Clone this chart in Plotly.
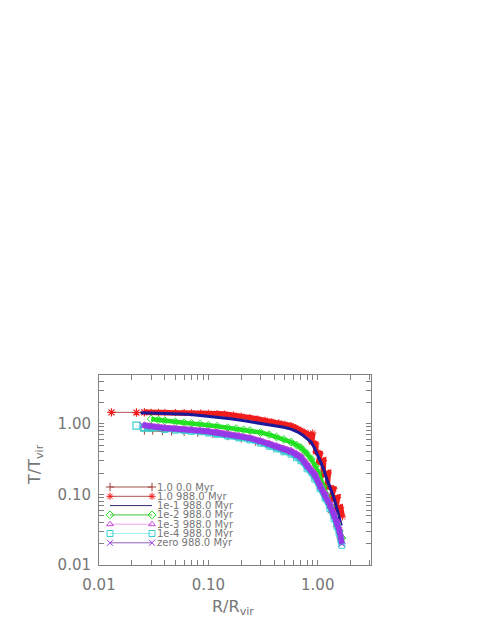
"""Temperature profiles T/Tvir vs R/Rvir, IDL-style log-log plot rebuilt in Plotly."""
import plotly.graph_objects as go

# ---- data ------------------------------------------------------------------
LABELS = ["1.0 0.0 Myr", "1.0 988.0 Myr", "1e-1 988.0 Myr", "1e-2 988.0 Myr",
          "1e-3 988.0 Myr", "1e-4 988.0 Myr", "zero 988.0 Myr"]

R_IC = [0.026, 0.031, 0.038, 0.046, 0.06, 0.08, 0.11, 0.15, 0.2, 0.27,
        0.36, 0.48, 0.6, 0.75, 0.9, 1.05, 1.2, 1.35, 1.5, 1.62]
T_IC = [0.80, 0.80, 0.79, 0.78, 0.77, 0.75, 0.72, 0.67, 0.62, 0.56,
        0.5, 0.42, 0.36, 0.27, 0.19, 0.13, 0.085, 0.055, 0.035, 0.024]

# outer run: two isolated inner points, flat part, then the wide scatter of the fall-off
R_F1 = [0.013, 0.022, 0.026, 0.03, 0.035, 0.04, 0.05, 0.06, 0.07, 0.085,
        0.10, 0.12, 0.14, 0.17, 0.20, 0.24, 0.28, 0.33, 0.38, 0.44,
        0.50, 0.57, 0.63, 0.70, 0.76, 0.82, 0.86, 0.90, 0.88, 0.96,
        0.96, 1.05, 1.02, 1.13, 1.12, 1.25, 1.22, 1.40, 1.32, 1.52,
        1.45, 1.62, 1.68]
T_F1 = [1.45, 1.44, 1.45, 1.45, 1.45, 1.45, 1.44, 1.44, 1.43, 1.42,
        1.41, 1.39, 1.37, 1.33, 1.28, 1.22, 1.17, 1.12, 1.07, 1.03,
        0.98, 0.94, 0.88, 0.81, 0.76, 0.72, 0.68, 0.74, 0.55, 0.52,
        0.40, 0.38, 0.28, 0.30, 0.19, 0.20, 0.13, 0.12, 0.085, 0.09,
        0.06, 0.065, 0.048]

R_E1 = [0.024, 0.03, 0.04, 0.05, 0.065, 0.084, 0.10, 0.13, 0.16, 0.20,
        0.24, 0.30, 0.36, 0.42, 0.49, 0.57, 0.65, 0.72, 0.80, 0.87,
        0.95, 1.00, 1.07, 1.13, 1.20, 1.30, 1.41, 1.50, 1.58, 1.64]
T_E1 = [1.43, 1.42, 1.41, 1.39, 1.36, 1.31, 1.28, 1.23, 1.18, 1.12,
        1.07, 1.01, 0.96, 0.93, 0.89, 0.84, 0.77, 0.70, 0.62, 0.55,
        0.43, 0.36, 0.28, 0.23, 0.17, 0.12, 0.088, 0.062, 0.045, 0.036]

R_E2 = [0.030, 0.035, 0.04, 0.05, 0.06, 0.07, 0.084, 0.10, 0.12, 0.15,
        0.18, 0.21, 0.24, 0.30, 0.36, 0.42, 0.49, 0.57, 0.64, 0.70,
        0.78, 0.87, 0.95, 1.02, 1.13, 1.22, 1.32, 1.41, 1.50, 1.58, 1.67]
T_E2 = [1.17, 1.13, 1.10, 1.06, 1.03, 1.01, 0.99, 0.95, 0.92, 0.88,
        0.85, 0.82, 0.80, 0.75, 0.70, 0.65, 0.60, 0.55, 0.50, 0.46,
        0.39, 0.32, 0.25, 0.20, 0.13, 0.095, 0.068, 0.05, 0.038, 0.03, 0.024]

R_E3 = [0.026, 0.03, 0.04, 0.05, 0.06, 0.07, 0.084, 0.10, 0.12, 0.15,
        0.19, 0.24, 0.30, 0.36, 0.42, 0.49, 0.57, 0.64, 0.70, 0.80,
        0.94, 1.05, 1.17, 1.29, 1.41, 1.50, 1.57, 1.62, 1.66]
T_E3 = [0.97, 0.93, 0.89, 0.87, 0.85, 0.84, 0.82, 0.80, 0.77, 0.73,
        0.69, 0.64, 0.58, 0.53, 0.49, 0.45, 0.42, 0.38, 0.35, 0.27,
        0.20, 0.14, 0.105, 0.075, 0.053, 0.042, 0.033, 0.026, 0.021]

R_E4 = [0.022, 0.026, 0.03, 0.04, 0.05, 0.06, 0.07, 0.084, 0.10, 0.12,
        0.15, 0.19, 0.24, 0.30, 0.36, 0.42, 0.49, 0.57, 0.64, 0.70,
        0.80, 0.94, 1.05, 1.17, 1.29, 1.41, 1.50, 1.57, 1.62, 1.66]
T_E4 = [0.94, 0.88, 0.86, 0.83, 0.81, 0.80, 0.78, 0.77, 0.74, 0.71,
        0.67, 0.63, 0.59, 0.53, 0.48, 0.44, 0.40, 0.37, 0.33, 0.30,
        0.23, 0.165, 0.12, 0.088, 0.063, 0.045, 0.035, 0.028, 0.023, 0.019]

R_Z = [0.025, 0.03, 0.04, 0.05, 0.06, 0.07, 0.084, 0.094, 0.12, 0.15,
       0.19, 0.24, 0.30, 0.36, 0.42, 0.49, 0.57, 0.64, 0.70, 0.80,
       0.94, 1.05, 1.17, 1.29, 1.41, 1.50, 1.57, 1.62, 1.66]
T_Z = [0.95, 0.90, 0.86, 0.84, 0.83, 0.81, 0.80, 0.78, 0.74, 0.70,
       0.66, 0.62, 0.56, 0.51, 0.47, 0.43, 0.40, 0.36, 0.33, 0.25,
       0.185, 0.13, 0.097, 0.07, 0.05, 0.04, 0.031, 0.025, 0.020]

MAJOR = [0.01, 0.1, 1.0]
MAJOR_TEXT = ["0.01", "0.10", "1.00"]

# ---- style ------------------------------------------------------------------
PAGE_PAD = 8                      # default <body> margin of the html page
W, H = 485 - PAGE_PAD, 629 - PAGE_PAD
L, R, T, B = 99 - PAGE_PAD, 114, 375 - PAGE_PAD, 64
PW, PH = W - L - R, H - T - B
AXIS = "#808080"
TXT = "#767676"
FONT = "DejaVu Sans"


def px_x(page_x):
    return (page_x - PAGE_PAD - L) / PW


def px_y(page_y):
    return (H - B - (page_y - PAGE_PAD)) / PH


# (name, x, y, marker colour, legend line colour, symbol, line width, first point of dense band)
SERIES = [
    (LABELS[0], R_IC, T_IC, "#a0403a", "#a05048", "cross-thin-open", 1.5, 0),
    (LABELS[1], R_F1, T_F1, "#f01c1c", "#b05050", "asterisk-open", 5.5, 2),
    (LABELS[2], R_E1, T_E1, "#1a1a9a", "#2a2a6a", None, 3, 0),
    (LABELS[3], R_E2, T_E2, "#22e022", "#40c040", "diamond-open", 4.5, 0),
    (LABELS[4], R_E3, T_E3, "#c848d8", "#f0a8f0", "triangle-up-open", 5, 0),
    (LABELS[5], R_E4, T_E4, "#38d0d0", "#a8f0f0", "square-open", 5, 1),
    (LABELS[6], R_Z, T_Z, "#9438e8", "#9060b8", "x-thin-open", 5.5, 0),
]

fig = go.Figure()

for name, xs, ys, mcol, lcol, sym, lw, k in SERIES:
    if k:
        # sparse inner points: thin connecting line with the symbols
        fig.add_trace(go.Scatter(
            x=xs[:k + 1], y=ys[:k + 1], mode="lines+markers", showlegend=False,
            line=dict(color=lcol, width=1),
            marker=dict(symbol=sym, size=7, color=mcol, line=dict(color=mcol, width=1.2)),
        ))
    kw = dict(x=xs[k:], y=ys[k:], mode="lines+markers" if sym else "lines",
              name=name, showlegend=False, line=dict(color=mcol, width=lw))
    if sym:
        kw["marker"] = dict(symbol=sym, size=6, color=mcol, line=dict(color=mcol, width=1))
    fig.add_trace(go.Scatter(**kw))

# IDL-style legend: a short line with a symbol at each end, drawn on a hidden overlay axis
row0, row_step = 487, 9.3
annotations = []
for i, (name, _, _, mcol, lcol, sym, lw, k) in enumerate(SERIES):
    yp = px_y(row0 + row_step * i)
    fig.add_trace(go.Scatter(
        x=[0, 1], y=[yp, yp], xaxis="x2", yaxis="y2", showlegend=False,
        mode="lines+markers" if sym else "lines",
        line=dict(color=lcol, width=1),
        marker=dict(symbol=sym or "circle", size=6, color=mcol,
                    line=dict(color=mcol, width=1)),
        hoverinfo="skip", cliponaxis=False,
    ))
    annotations.append(dict(
        xref="paper", yref="paper", x=px_x(155), y=yp,
        xanchor="left", yanchor="middle", showarrow=False, text=name,
        font=dict(family=FONT, size=10, color=TXT),
    ))

# axis titles
annotations.append(dict(
    xref="paper", yref="paper", x=px_x(233), y=px_y(607),
    xanchor="center", yanchor="middle", showarrow=False, text="R/R<sub>vir</sub>",
    font=dict(family=FONT, size=16, color=TXT),
))
annotations.append(dict(
    xref="paper", yref="paper", x=px_x(35), y=px_y(465),
    xanchor="center", yanchor="middle", showarrow=False, text="T/T<sub>vir</sub>",
    textangle=-90, font=dict(family=FONT, size=16, color=TXT),
))

tickvals = [m * d for m in MAJOR for d in range(1, 10)]
ticktext = [MAJOR_TEXT[MAJOR.index(m)] if d == 1 else "" for m in MAJOR for d in range(1, 10)]

axis_common = dict(
    type="log", showgrid=False, zeroline=False, showline=True, linecolor=AXIS, linewidth=1,
    mirror="ticks", ticks="inside", ticklen=5, tickcolor=AXIS, tickwidth=1,
    tickvals=tickvals, ticktext=ticktext,
    tickfont=dict(family=FONT, size=15, color=TXT),
)

fig.update_layout(
    width=W, height=H,
    margin=dict(l=L, r=R, t=T, b=B),
    paper_bgcolor="white", plot_bgcolor="rgba(0,0,0,0)",
    showlegend=False,
    xaxis=dict(range=[-2, 0.487], ticklabelstandoff=6, **axis_common),
    yaxis=dict(range=[-2, 0.69], ticklabelstandoff=4, **axis_common),
    xaxis2=dict(domain=[px_x(110), px_x(152)], range=[0, 1],
                anchor="y2", visible=False, fixedrange=True),
    yaxis2=dict(domain=[0, 1], range=[0, 1], anchor="x2", visible=False, fixedrange=True),
    annotations=annotations,
)

fig.write_html("out.html")
